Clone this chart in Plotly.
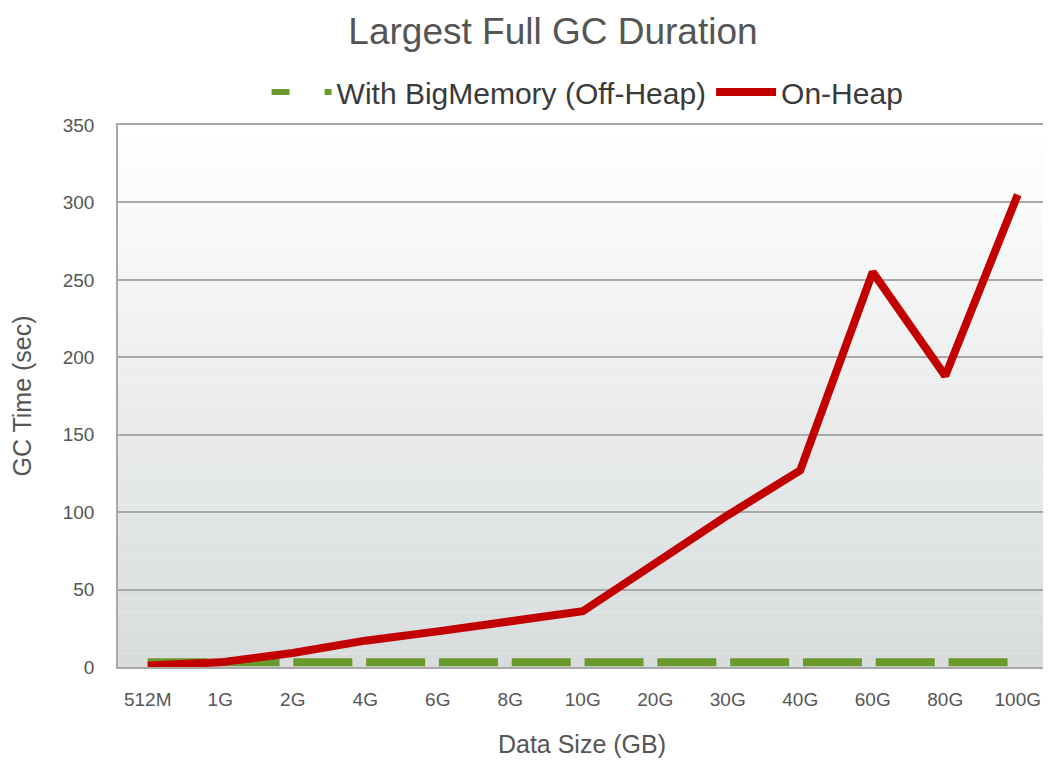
import plotly.graph_objects as go

categories = ["512M", "1G", "2G", "4G", "6G", "8G", "10G", "20G", "30G", "40G", "60G", "80G", "100G"]
off_heap = [3, 3, 3, 3, 3, 3, 3, 3, 3, 3, 3, 3, 3]
on_heap = [1, 3, 9, 17, 23, 30, 36, 67, 98, 127, 255, 188, 305]
y_ticks = [0, 50, 100, 150, 200, 250, 300, 350]

GREEN = "#6b9a2c"
RED = "#c20000"

fig = go.Figure()
fig.add_trace(go.Scatter(x=categories, y=off_heap, mode="lines", name="With BigMemory (Off-Heap)",
                         showlegend=False,
                         line=dict(color=GREEN, width=8, dash="59px,13.8px")))
# legend entry for the dashed series (short dash pattern like the reference legend)
fig.add_trace(go.Scatter(x=[None], y=[None], mode="lines", name="With BigMemory (Off-Heap)",
                         line=dict(color=GREEN, width=6, dash="18px,35px")))
fig.add_trace(go.Scatter(x=categories, y=on_heap, mode="lines", name="On-Heap",
                         line=dict(color=RED, width=6)))

# gradient background for the plot area
n = 40
shapes = []
for i in range(n):
    t = i / (n - 1)
    c = int(round(255 - t * (255 - 216)))
    c2 = int(round(255 - t * (255 - 220)))
    shapes.append(dict(type="rect", xref="x domain", yref="y domain",
                       x0=0, x1=1, y0=1 - (i + 1) / n, y1=1 - i / n,
                       fillcolor=f"rgb({c},{c2},{c2})", line=dict(width=0), layer="below"))
fig.update_layout(shapes=shapes)

fig.update_layout(
    width=1043, height=753,
    paper_bgcolor="white", plot_bgcolor="rgba(0,0,0,0)",
    margin=dict(l=110, r=3, t=117, b=94),
    font=dict(family="Liberation Sans, Arial, sans-serif", color="#555555"),
    title=dict(text="Largest Full GC Duration", x=0.5225, xanchor="center", y=0.97, yanchor="middle",
               font=dict(size=37, color="#555555")),
    legend=dict(orientation="h", x=0.506, xanchor="center", y=1.061, yanchor="middle",
                font=dict(size=30, color="#3a3a3a"), tracegroupgap=0, itemwidth=60,
                bgcolor="rgba(0,0,0,0)"),
    showlegend=True,
)
fig.update_traces(selector=dict(name="On-Heap"), line_width=8)
fig.update_xaxes(type="category", range=[-0.41, 12.39],
                 title=dict(text="Data Size (GB)", font=dict(size=25, color="#555555"), standoff=27),
                 tickfont=dict(size=19, color="#555555"), showgrid=False, showline=True,
                 linecolor="#a8a8a8", linewidth=1.5, mirror=True, ticks="", ticklabelstandoff=14)
fig.update_yaxes(range=[0, 350], tickvals=y_ticks,
                 title=dict(text="GC Time (sec)", font=dict(size=25, color="#555555"), standoff=24),
                 tickfont=dict(size=19, color="#555555"), showgrid=True, gridcolor="#a8a8a8", gridwidth=1.5,
                 showline=True, linecolor="#a8a8a8", linewidth=1.5, mirror=True, zeroline=False, ticks="",
                 ticklabelstandoff=18)

fig.write_html("out.html")
